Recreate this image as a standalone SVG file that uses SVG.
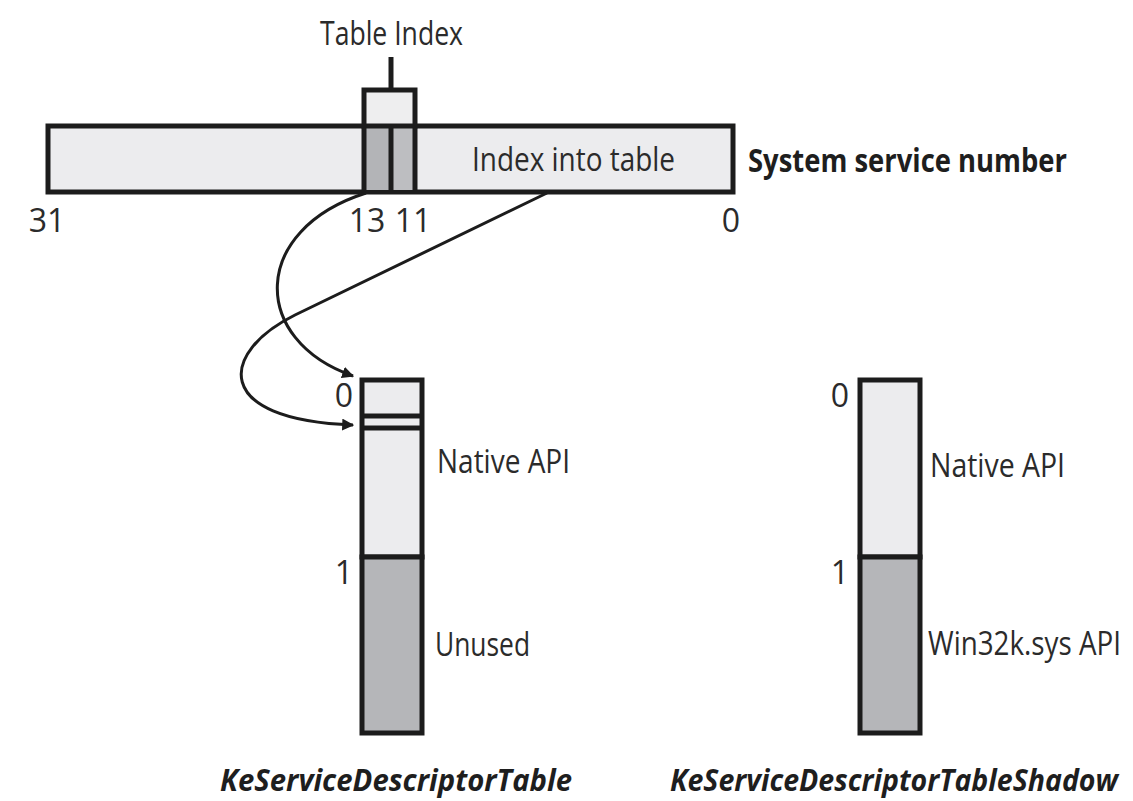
<svg xmlns="http://www.w3.org/2000/svg" width="1133" height="801" viewBox="0 0 1133 801">
<defs>
<style>
.t{font-family:"Open Sans","Noto Sans","Liberation Sans",sans-serif;font-size:33px;fill:#2b2b2b}
.n{font-family:"Open Sans","Noto Sans","Liberation Sans",sans-serif;font-size:32px;fill:#2b2b2b;text-anchor:middle}
.b{font-family:"Open Sans","Noto Sans","Liberation Sans",sans-serif;font-size:32px;font-weight:bold;fill:#1e1e1e}
.bi{font-family:"Open Sans","Noto Sans","Liberation Sans",sans-serif;font-size:31px;font-weight:bold;font-style:italic;fill:#1e1e1e}
.box{stroke:#1c1c1c;stroke-width:5}
.light{fill:#ececee}
.dark{fill:#b5b6b9}
.ln{fill:none;stroke:#1c1c1c;stroke-width:5}
.con{fill:none;stroke:#1c1c1c;stroke-width:3}
</style>
<marker id="ah" viewBox="0 0 10 10" refX="9" refY="5" markerWidth="12" markerHeight="12" markerUnits="userSpaceOnUse" orient="auto">
<path d="M0,0 L10,5 L0,10 z" fill="#1c1c1c"/>
</marker>
</defs>
<rect width="1133" height="801" fill="#ffffff"/>

<g id="service-number">
<rect class="box light" x="48" y="126" width="685" height="66"/>
<rect x="366" y="128" width="25" height="62" fill="#b3b4b7"/>
<rect x="391" y="128" width="24" height="62" fill="#bdbec1"/>
<rect class="box" x="364" y="90" width="51" height="36" fill="#eeeeef"/>
<line class="ln" x1="364" y1="126" x2="364" y2="192"/>
<line class="ln" x1="391" y1="126" x2="391" y2="192"/>
<line class="ln" x1="415" y1="126" x2="415" y2="192"/>
<line class="ln" x1="391" y1="57" x2="391" y2="90"/>
<text class="t" x="320" y="45" textLength="143" lengthAdjust="spacingAndGlyphs">Table Index</text>
<text class="t" x="472" y="171" textLength="203" lengthAdjust="spacingAndGlyphs">Index into table</text>
<text class="b" x="748" y="172" textLength="319" lengthAdjust="spacingAndGlyphs">System service number</text>
<text class="n" x="47" y="232">31</text>
<text class="n" x="367" y="232">13</text>
<text class="n" x="413" y="232">11</text>
<text class="n" x="731" y="232">0</text>
</g>

<g id="ke-table">
<rect class="box light" x="362" y="380" width="60" height="177"/>
<rect class="box dark" x="362" y="557" width="60" height="176"/>
<line class="ln" x1="362" y1="416" x2="422" y2="416"/>
<line class="ln" x1="362" y1="428" x2="422" y2="428"/>
<text class="n" x="344" y="407">0</text>
<text class="n" x="344" y="584">1</text>
<text class="t" x="437" y="473" textLength="133" lengthAdjust="spacingAndGlyphs">Native API</text>
<text class="t" x="435" y="656" textLength="95" lengthAdjust="spacingAndGlyphs">Unused</text>
<text class="bi" x="220" y="791" textLength="352" lengthAdjust="spacingAndGlyphs">KeServiceDescriptorTable</text>
</g>

<g id="ke-table-shadow">
<rect class="box light" x="860" y="380" width="60" height="177"/>
<rect class="box dark" x="860" y="557" width="60" height="176"/>
<text class="n" x="840" y="407">0</text>
<text class="n" x="840" y="584">1</text>
<text class="t" x="930" y="477" textLength="135" lengthAdjust="spacingAndGlyphs">Native API</text>
<text class="t" transform="translate(928,655) scale(1,1.3)" style="font-size:25.5px" x="0" y="0" textLength="193" lengthAdjust="spacingAndGlyphs">Win32k.sys API</text>
<text class="bi" transform="translate(670,791) scale(1,1.15)" style="font-size:27px" x="0" y="0" textLength="448" lengthAdjust="spacingAndGlyphs">KeServiceDescriptorTableShadow</text>
</g>

<g id="connectors">
<path class="con" d="M366,193 C250,230 250,340 353,376" marker-end="url(#ah)"/>
<path class="con" d="M547,193 L295,315 C220,352 210,420 353,425" marker-end="url(#ah)"/>
</g>
</svg>
